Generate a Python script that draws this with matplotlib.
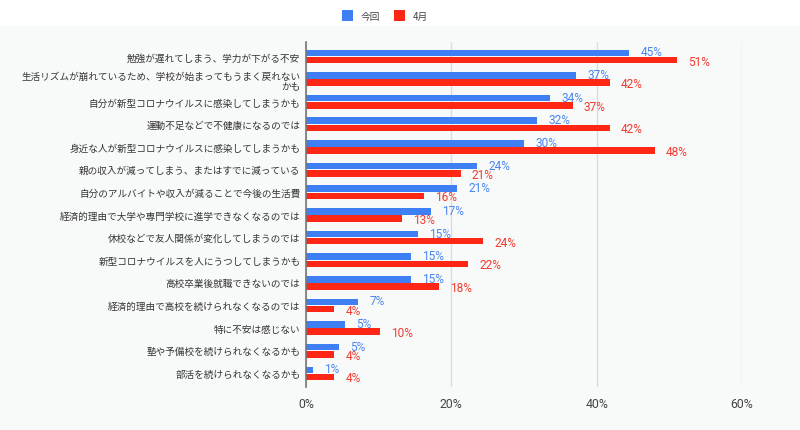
import numpy as np
import matplotlib.pyplot as plt
from matplotlib.patches import Rectangle

plt.rcParams['font.family'] = ['Noto Sans CJK JP', 'DejaVu Sans']

categories = [
    "勉強が遅れてしまう、学力が下がる不安",
    "生活リズムが崩れているため、学校が始まってもうまく戻れない\nかも",
    "自分が新型コロナウイルスに感染してしまうかも",
    "運動不足などで不健康になるのでは",
    "身近な人が新型コロナウイルスに感染してしまうかも",
    "親の収入が減ってしまう、またはすでに減っている",
    "自分のアルバイトや収入が減ることで今後の生活費",
    "経済的理由で大学や専門学校に進学できなくなるのでは",
    "休校などで友人関係が変化してしまうのでは",
    "新型コロナウイルスを人にうつしてしまうかも",
    "高校卒業後就職できないのでは",
    "経済的理由で高校を続けられなくなるのでは",
    "特に不安は感じない",
    "塾や予備校を続けられなくなるかも",
    "部活を続けられなくなるかも",
]
konkai = [44.5, 37.2, 33.6, 31.8, 30.0, 23.6, 20.8, 17.2, 15.4, 14.5, 14.5, 7.2, 5.4, 4.5, 0.9]
shigatsu = [51.0, 41.8, 36.7, 41.8, 48.0, 21.3, 16.3, 13.2, 24.4, 22.3, 18.3, 3.9, 10.2, 3.9, 3.9]
konkai_labels = ["45%", "37%", "34%", "32%", "30%", "24%", "21%", "17%", "15%", "15%", "15%", "7%", "5%", "5%", "1%"]
shigatsu_labels = ["51%", "42%", "37%", "42%", "48%", "21%", "16%", "13%", "24%", "22%", "18%", "4%", "10%", "4%", "4%"]
series_names = ["今回", "4月"]

blue = "#3f7ff4"
red = "#fe2614"
bg = "#f8f9f9"
num_font = ['Roboto', 'DejaVu Sans']

fig = plt.figure(figsize=(8, 4.31), dpi=100, facecolor=bg)
# white strip at the top behind the legend
fig.patches.append(Rectangle((0, 1 - 27 / 431), 1, 27 / 431, transform=fig.transFigure,
                             facecolor="white", edgecolor="none", zorder=0))

ax = fig.add_axes([306 / 800, 1 - 388 / 431, 436 / 800, 345 / 431])
ax.set_facecolor(bg)

y = np.arange(len(categories))
h = 0.29
ax.barh(y - 0.16, konkai, height=h, color=blue, zorder=3)
ax.barh(y + 0.16, shigatsu, height=h, color=red, zorder=3)

for i in range(len(categories)):
    ax.annotate(konkai_labels[i], (konkai[i], y[i] - 0.2), xytext=(8, 0), textcoords="offset points",
                va="center", ha="left", fontsize=8.6, color="#4a86f0", family=num_font)
    ax.annotate(shigatsu_labels[i], (shigatsu[i], y[i] + 0.2), xytext=(8, 0), textcoords="offset points",
                va="center", ha="left", fontsize=8.6, color="#f23a2e", family=num_font)

ax.set_xlim(0, 60)
ax.set_ylim(len(categories) - 1 + 0.6, -0.64)
ax.set_xticks([0, 20, 40, 60])
ax.set_xticklabels(["0%", "20%", "40%", "60%"], fontsize=8.8, color="#444444", family=num_font)
ax.set_yticks(y)
ax.set_yticklabels(categories, fontsize=6.9, color="#333333", linespacing=1.1)
for lab in ax.get_yticklabels():
    lab.set_horizontalalignment("right")
ax.tick_params(axis="both", length=0)
ax.tick_params(axis="y", pad=4)
ax.tick_params(axis="x", pad=7)
ax.grid(axis="x", color="#dcdcdc", linewidth=1, zorder=0)
for s in ["top", "right", "bottom"]:
    ax.spines[s].set_visible(False)
ax.spines["left"].set_color("#777777")
ax.spines["left"].set_linewidth(1.2)
ax.spines["left"].set_zorder(4)

# legend
fig.patches.append(Rectangle((342 / 800, 1 - 22 / 431), 11 / 800, 11 / 431, transform=fig.transFigure,
                             facecolor=blue, edgecolor="none"))
fig.text(361 / 800, 1 - 16.5 / 431, series_names[0], fontsize=7, color="#444444", va="center")
fig.patches.append(Rectangle((394 / 800, 1 - 22 / 431), 11 / 800, 11 / 431, transform=fig.transFigure,
                             facecolor=red, edgecolor="none"))
fig.text(413 / 800, 1 - 16.5 / 431, series_names[1], fontsize=7, color="#444444", va="center")

fig.savefig("out.png", dpi=100, facecolor=bg)
